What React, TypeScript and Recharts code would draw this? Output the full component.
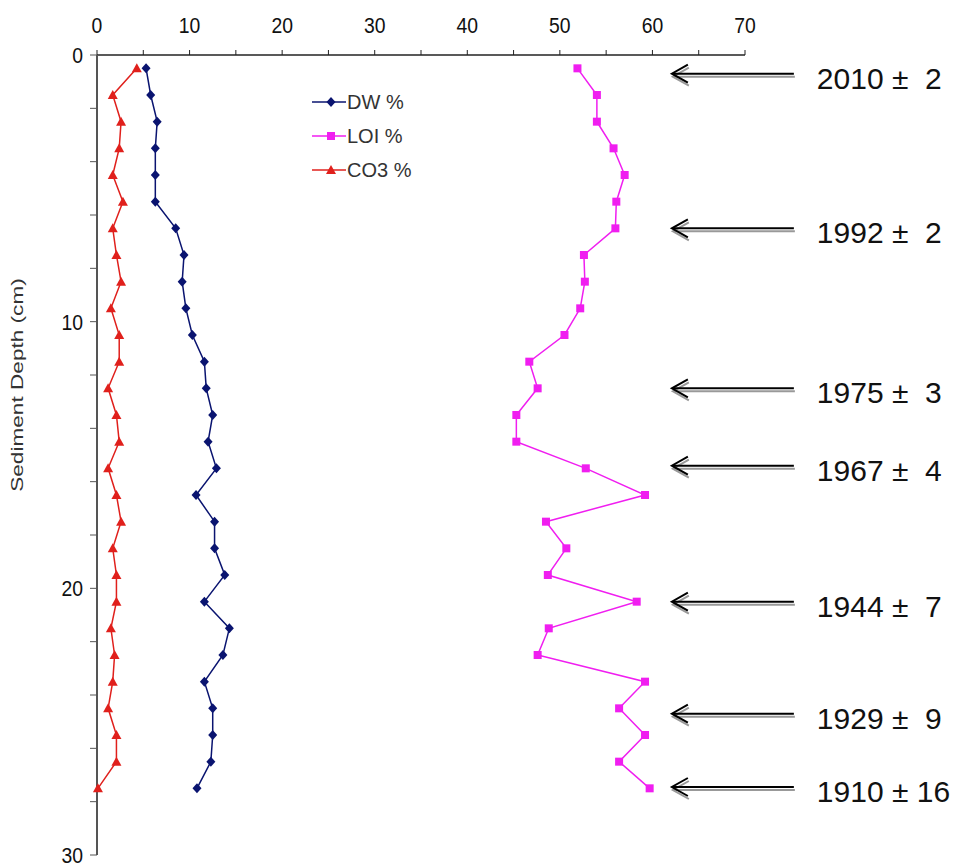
import { Label, Legend, ReferenceDot, Scatter, ScatterChart, XAxis, YAxis } from 'recharts'

const FONT = "'Liberation Sans', Arial, sans-serif"

// sediment core sampling depths (cm)
const DEPTHS = [
  0.5, 1.5, 2.5, 3.5, 4.5, 5.5, 6.5, 7.5, 8.5, 9.5, 10.5, 11.5, 12.5, 13.5,
  14.5, 15.5, 16.5, 17.5, 18.5, 19.5, 20.5, 21.5, 22.5, 23.5, 24.5, 25.5, 26.5, 27.5,
]
const DW = [
  5.3, 5.8, 6.5, 6.3, 6.3, 6.3, 8.5, 9.4, 9.2, 9.6, 10.3, 11.6, 11.8, 12.5,
  12.0, 12.9, 10.7, 12.7, 12.7, 13.8, 11.6, 14.3, 13.6, 11.6, 12.5, 12.5, 12.3, 10.8,
]
const LOI = [
  51.9, 54.0, 54.0, 55.8, 57.0, 56.1, 56.0, 52.6, 52.7, 52.2, 50.5, 46.7, 47.6, 45.3,
  45.3, 52.8, 59.2, 48.5, 50.7, 48.7, 58.3, 48.8, 47.6, 59.2, 56.4, 59.2, 56.4, 59.7,
]
const CO3 = [
  4.3, 1.7, 2.6, 2.4, 1.7, 2.8, 1.7, 2.1, 2.6, 1.5, 2.4, 2.4, 1.2, 2.1,
  2.4, 1.2, 2.1, 2.6, 1.7, 2.1, 2.1, 1.5, 1.9, 1.7, 1.2, 2.1, 2.1, 0.1,
]

const X_TICKS = [0, 5, 10, 15, 20, 25, 30, 35, 40, 45, 50, 55, 60, 65, 70]
const Y_TICKS = [0, 2, 4, 6, 8, 10, 12, 14, 16, 18, 20, 22, 24, 26, 28, 30]

// 210Pb dates and the depths they point at
const DATE_LABELS = ['2010 ±  2', '1992 ±  2', '1975 ±  3', '1967 ±  4', '1944 ±  7', '1929 ±  9', '1910 ± 16']
const DATE_DEPTHS = [0.7, 6.5, 12.5, 15.4, 20.5, 24.7, 27.45]
const ARROW_TIP = 62.1

const toPoints = (vals: number[]) => vals.map((v, i) => ({ x: v, y: DEPTHS[i] }))

const Diamond = ({ cx, cy, fill }: any) => (
  <path d={`M${cx},${cy - 5}L${cx + 4.5},${cy}L${cx},${cy + 5}L${cx - 4.5},${cy}Z`} fill={fill} />
)
const Square = ({ cx, cy, fill }: any) => <rect x={cx - 4} y={cy - 4} width={8} height={8} fill={fill} />
const Triangle = ({ cx, cy, fill }: any) => (
  <path d={`M${cx},${cy - 5}L${cx + 5},${cy + 4}L${cx - 5},${cy + 4}Z`} fill={fill} />
)

const SERIES = [
  { name: 'DW %', color: '#0a1470', data: toPoints(DW), shape: Diamond },
  { name: 'LOI %', color: '#f01ef0', data: toPoints(LOI), shape: Square },
  { name: 'CO3 %', color: '#e0201c', data: toPoints(CO3), shape: Triangle },
]

// axis numbers are drawn slightly condensed
const TickText = ({ x, y, anchor, value }: any) => (
  <g transform={`translate(${x},${y}) scale(0.88,1)`}>
    <text x={0} y={0} textAnchor={anchor} fontSize={22} fontFamily={FONT} fill="#111">
      {value}
    </text>
  </g>
)

const XTick = ({ x, y, payload }: any) =>
  payload.value % 10 === 0 ? <TickText x={x} y={y - 15} anchor="middle" value={payload.value} /> : null

const YTick = ({ x, y, payload }: any) =>
  payload.value % 10 === 0 ? <TickText x={x - 5} y={y + 8} anchor="end" value={payload.value} /> : null

const DateArrow = ({ cx, cy, text }: any) => (
  <g>
    <line x1={cx + 2} y1={cy + 3} x2={cx + 123} y2={cy + 3} stroke="#999" strokeWidth={2} />
    <polyline points={`${cx + 17},${cy - 6} ${cx + 1},${cy + 3} ${cx + 17},${cy + 12}`} fill="none" stroke="#999" strokeWidth={2} />
    <line x1={cx + 1} y1={cy} x2={cx + 122} y2={cy} stroke="#000" strokeWidth={2} />
    <polyline points={`${cx + 16},${cy - 9} ${cx},${cy} ${cx + 16},${cy + 9}`} fill="none" stroke="#000" strokeWidth={2} />
    <text x={cx + 145} y={cy + 15} fontSize={30} fontFamily={FONT} fill="#111" style={{ whiteSpace: 'pre' }}>
      {text}
    </text>
  </g>
)

const LegendBox = () => (
  <div style={{ fontFamily: FONT, fontSize: 20, color: '#333' }}>
    {SERIES.map((s) => {
      const Shape = s.shape
      return (
        <div key={s.name} style={{ display: 'flex', alignItems: 'center', height: 34 }}>
          <svg width={34} height={20}>
            <line x1={0} y1={10} x2={34} y2={10} stroke={s.color} strokeWidth={1.5} />
            <Shape cx={19} cy={10} fill={s.color} />
          </svg>
          <span style={{ marginLeft: 1 }}>{s.name}</span>
        </div>
      )
    })}
  </div>
)

export default function App() {
  return (
    <div style={{ position: 'absolute', left: 0, top: 0, background: '#fff' }}>
      <ScatterChart width={968} height={867} margin={{ top: 25, right: 223, bottom: 12, left: 27 }}>
        <XAxis
          type="number"
          dataKey="x"
          orientation="top"
          domain={[0, 70]}
          ticks={X_TICKS}
          interval={0}
          height={30}
          tickSize={5}
          tick={<XTick />}
          axisLine={{ stroke: '#222', strokeWidth: 1.5 }}
          tickLine={{ stroke: '#222' }}
        />
        <YAxis
          type="number"
          dataKey="y"
          domain={[0, 30]}
          reversed
          ticks={Y_TICKS}
          interval={0}
          width={70}
          tickSize={7}
          tick={<YTick />}
          axisLine={{ stroke: '#555', strokeWidth: 2 }}
          tickLine={{ stroke: '#555' }}
        >
          <Label
            content={({ viewBox }: any) => {
              const lx = viewBox.x - 10
              const ly = viewBox.y + 330
              return (
                <g transform={`translate(${lx},${ly}) rotate(-90) scale(1.33,1)`}>
                  <text
                    x={0}
                    y={0}
                    textAnchor="middle"
                    dominantBaseline="central"
                    fontSize={17}
                    fontFamily={FONT}
                    fill="#333"
                  >
                    Sediment Depth (cm)
                  </text>
                </g>
              )
            }}
          />
        </YAxis>
        <Legend
          layout="vertical"
          align="center"
          verticalAlign="middle"
          wrapperStyle={{ top: 85, left: 312, width: 140 }}
          content={() => <LegendBox />}
        />
        {SERIES.map((s) => (
          <Scatter
            key={s.name}
            name={s.name}
            data={s.data}
            fill={s.color}
            line={{ stroke: s.color, strokeWidth: 1.5 }}
            shape={s.shape}
            isAnimationActive={false}
          />
        ))}
        {DATE_LABELS.map((t, i) => (
          <ReferenceDot
            key={t}
            x={ARROW_TIP}
            y={DATE_DEPTHS[i]}
            ifOverflow="visible"
            shape={(p: any) => <DateArrow {...p} text={t} />}
          />
        ))}
      </ScatterChart>
    </div>
  )
}
